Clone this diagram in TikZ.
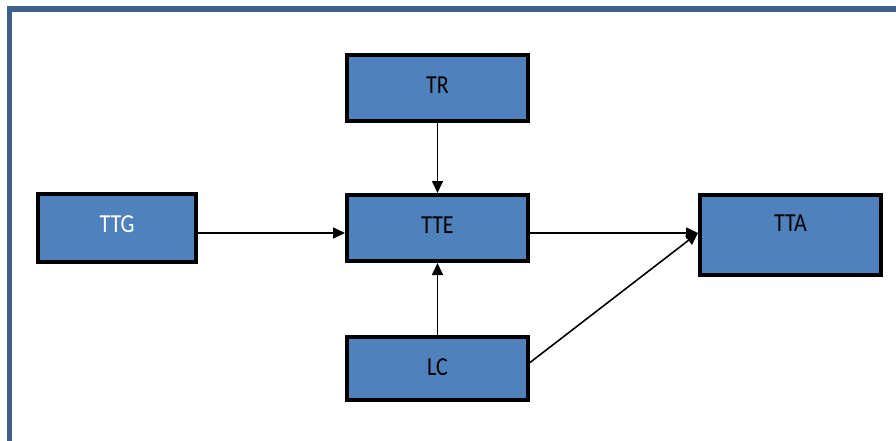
\documentclass[tikz,border=0pt]{standalone}
\usepackage{fontspec}
\setmainfont{Carlito}
\usetikzlibrary{arrows.meta}
\definecolor{framec}{HTML}{3C5F8C}
\definecolor{boxfill}{HTML}{4F81BD}
\newcommand{\lbltxt}[1]{\scalebox{1}[1.18]{#1}}
\tikzset{
  blk/.style={draw=black, line width=4pt, fill=boxfill, rectangle, inner sep=0pt},
  lbl/.style={font=\fontsize{22}{24}\selectfont, text=black, inner sep=0pt},
  arr/.style={draw=black, line width=1.6pt, -{Triangle[length=12pt,width=11pt]}}
}
\begin{document}
\begin{tikzpicture}[x=1pt,y=-1pt]
\useasboundingbox (0,0) rectangle (896,441);
\fill[white] (0,0) rectangle (896,441);
\draw[framec, line width=5.5pt] (9.5,9) rectangle (910,460);
\node[blk, minimum width=158pt, minimum height=68pt] (ttg) at (117,228) {};
\node[lbl, text=white] (ttgt) at (117,224) {\lbltxt{TTG}};
\node[blk, minimum width=181pt, minimum height=66pt] (tr) at (437.5,88) {};
\node[lbl] (trt) at (437.5,85) {\lbltxt{TR}};
\node[blk, minimum width=181pt, minimum height=66pt] (tte) at (437.5,228) {};
\node[lbl] (ttet) at (437.5,225) {\lbltxt{TTE}};
\node[blk, minimum width=181pt, minimum height=80pt] (tta) at (790.5,235) {};
\node[lbl] (ttat) at (790.5,223) {\lbltxt{TTA}};
\node[blk, minimum width=181pt, minimum height=63pt] (lc) at (437.5,368.5) {};
\node[lbl] (lct) at (437.5,367) {\lbltxt{LC}};
\coordinate (ttain) at ([yshift=2pt]tta.west);
\draw[arr] ([yshift=-5pt]ttg.east) -- ([yshift=-5pt]tte.west);
\draw[arr] (tr.south) -- (tte.north);
\draw[arr] (lc.north) -- (tte.south);
\draw[arr] ([yshift=-5pt]tte.east) -- (ttain);
\draw[arr] ([yshift=6pt]lc.east) -- (ttain);
\end{tikzpicture}
\end{document}
